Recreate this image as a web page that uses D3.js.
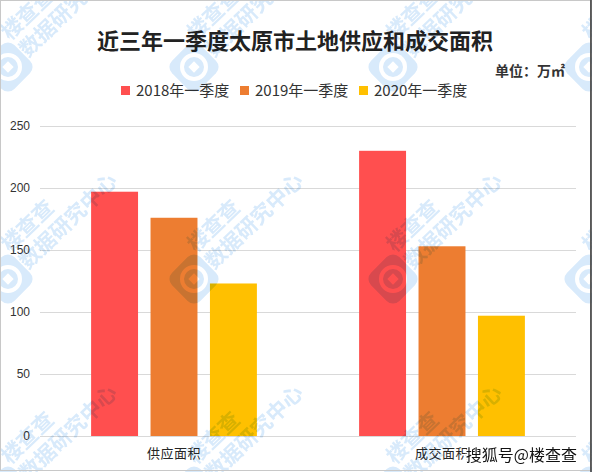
<!DOCTYPE html>
<html>
<head>
<meta charset="utf-8">
<script src="https://cdn.jsdelivr.net/npm/d3@7"></script>
<style>
  html, body { margin: 0; padding: 0; background: #fff; }
  svg { display: block; font-family: "Noto Sans CJK SC", "Noto Sans", sans-serif; }
</style>
</head>
<body>
<div id="chart"></div>
<script>
// 数据
var categories = ["供应面积", "成交面积"];
var seriesNames = ["2018年一季度", "2019年一季度", "2020年一季度"];
var values2018 = [197, 230];
var values2019 = [176, 153];
var values2020 = [123, 97];
var yTicks = [0, 50, 100, 150, 200, 250];
var colors = ["#FF4F4F", "#ED7D31", "#FFC000"];

// 水印位置
var wmX = [8, 194, 393, 589];
var wmY = [67, 279, 491];

var width = 592;
var height = 472;

var svg = d3.select("#chart")
            .append("svg")
            .attr("width", width)
            .attr("height", height);

svg.append("rect")
   .attr("width", width)
   .attr("height", height)
   .attr("fill", "#fff");

//Escalas
var x0 = d3.scaleBand()
           .domain(categories)
           .range([40, 576])
           .padding(0);

var x1 = d3.scaleBand()
           .domain(seriesNames)
           .range([0, x0.bandwidth()])
           .paddingInner(0.21)
           .paddingOuter(0.86);

var y = d3.scaleLinear()
          .domain([0, 250])
          .range([436, 126]);

// 网格线
svg.append("g")
   .selectAll("line")
   .data(yTicks)
   .enter()
   .append("line")
   .attr("x1", 40)
   .attr("x2", 576)
   .attr("y1", d => Math.round(y(d)) + 0.5)
   .attr("y2", d => Math.round(y(d)) + 0.5)
   .attr("stroke", "#d9d9d9")
   .attr("stroke-width", 1);

// Y 轴
var yAxis = svg.append("g")
               .attr("transform", "translate(30,0)")
               .call(d3.axisLeft(y).tickValues(yTicks).tickSize(0).tickPadding(0));
yAxis.select(".domain").remove();
yAxis.selectAll("text")
     .attr("fill", "#333")
     .style("font-family", "'Liberation Sans', Arial, sans-serif")
     .style("font-size", "12px");

// 柱子
var table = categories.map(function (c, i) {
    return {
        category: c,
        values: [values2018[i], values2019[i], values2020[i]].map(function (v, j) {
            return { name: seriesNames[j], value: v, color: colors[j] };
        })
    };
});

svg.append("g")
   .selectAll("g")
   .data(table)
   .enter()
   .append("g")
   .attr("transform", d => "translate(" + x0(d.category) + ",0)")
   .selectAll("rect")
   .data(d => d.values)
   .enter()
   .append("rect")
   .attr("x", d => x1(d.name))
   .attr("y", d => y(d.value))
   .attr("width", x1.bandwidth())
   .attr("height", d => y(0) - y(d.value))
   .attr("fill", d => d.color);

// X 轴标签
svg.append("g")
   .selectAll("text")
   .data(categories)
   .enter()
   .append("text")
   .attr("x", d => x0(d) + x0.bandwidth() / 2)
   .attr("y", 458)
   .attr("text-anchor", "middle")
   .attr("fill", "#262626")
   .style("font-size", "13px")
   .style("letter-spacing", "0.5px")
   .text(d => d);

// 标题
svg.append("text")
   .attr("x", 295)
   .attr("y", 49)
   .attr("text-anchor", "middle")
   .attr("fill", "#222")
   .style("font-weight", "bold")
   .style("font-size", "22px")
   .text("近三年一季度太原市土地供应和成交面积");

// 单位
svg.append("text")
   .attr("x", 565)
   .attr("y", 76)
   .attr("text-anchor", "end")
   .attr("fill", "#333")
   .style("font-weight", "bold")
   .style("font-size", "14px")
   .text("单位：万㎡");

// 图例
var legend = svg.append("g")
                .selectAll("g")
                .data(seriesNames)
                .enter()
                .append("g")
                .attr("transform", (d, i) => "translate(" + (121 + i * 119) + ",86)");
legend.append("rect")
      .attr("width", 9)
      .attr("height", 9)
      .attr("fill", (d, i) => colors[i]);
legend.append("text")
      .attr("x", 15)
      .attr("y", 10)
      .attr("fill", "#333")
      .style("font-size", "15px")
      .text(d => d);

// 水印
var wm = svg.append("g")
            .style("mix-blend-mode", "multiply");
var wmPos = [];
wmY.forEach(function (yy) { wmX.forEach(function (xx) { wmPos.push([xx, yy]); }); });

var tile = wm.selectAll("g")
             .data(wmPos)
             .enter()
             .append("g")
             .attr("transform", d => "translate(" + d[0] + "," + d[1] + ")");

var logo = tile.append("g").attr("transform", "rotate(45)");
logo.append("rect")
    .attr("x", -20).attr("y", -20)
    .attr("width", 40).attr("height", 40)
    .attr("rx", 9)
    .attr("fill", "#d8eafb");
logo.append("circle").attr("r", 14).attr("fill", "#fff");
logo.append("circle").attr("r", 10).attr("fill", "#d8eafb");
logo.append("rect")
    .attr("x", -4).attr("y", -4)
    .attr("width", 8).attr("height", 8)
    .attr("fill", "#fff");

tile.append("text")
    .attr("transform", "translate(2,-26) rotate(-44)")
    .attr("fill", "#d8eafb")
    .style("font-weight", "bold")
    .style("font-size", "21px")
    .text("楼查查");
tile.append("text")
    .attr("transform", "translate(20,-9) rotate(-44)")
    .attr("fill", "#d8eafb")
    .style("font-weight", "bold")
    .style("font-size", "21px")
    .text("数据研究中心");

// 搜狐号
svg.append("text")
   .attr("x", 577)
   .attr("y", 461)
   .attr("text-anchor", "end")
   .attr("fill", "#111")
   .attr("stroke", "#fff")
   .attr("stroke-width", 2.5)
   .style("paint-order", "stroke")
   .style("font-size", "16px")
   .text("搜狐号@楼查查");

// 边框
svg.append("rect")
   .attr("x", 0.5).attr("y", 0.5)
   .attr("width", 590).attr("height", 470)
   .attr("fill", "none")
   .attr("stroke", "#c8c8c8");
svg.append("line")
   .attr("x1", 591).attr("x2", 591)
   .attr("y1", 0).attr("y2", height)
   .attr("stroke", "#333")
   .attr("stroke-width", 1.5);
</script>
</body>
</html>
